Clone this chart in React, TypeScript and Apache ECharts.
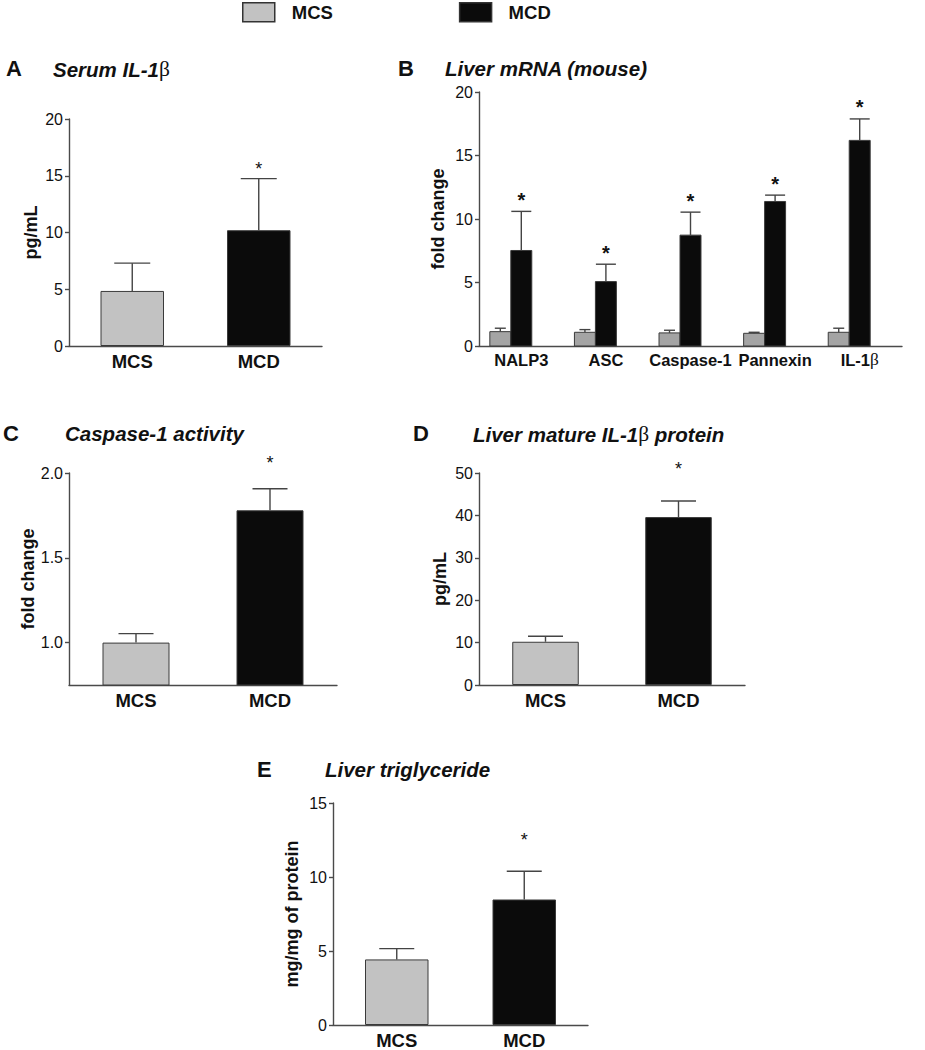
import React, { useEffect, useRef } from 'react';
import * as echarts from 'echarts';

// ---------- data ----------
const groups = ['MCS', 'MCD'];

// A: Serum IL-1β (pg/mL)
const serumCategories = ['MCS', 'MCD'];
const serumMean = [4.85, 10.2];
const serumSem = [2.45, 4.55];
const serumSig = [false, true];
const serumTicks = [0, 5, 10, 15, 20];

// B: Liver mRNA (fold change)
const mrnaCategories = ['NALP3', 'ASC', 'Caspase-1', 'Pannexin', 'IL-1β'];
const mrnaMcsMean = [1.13, 1.08, 1.03, 1.0, 1.08];
const mrnaMcsSem = [0.27, 0.21, 0.21, 0.08, 0.32];
const mrnaMcdMean = [7.52, 5.07, 8.73, 11.38, 16.19];
const mrnaMcdSem = [3.08, 1.37, 1.81, 0.5, 1.69];
const mrnaMcsSig = [false, false, false, false, false];
const mrnaMcdSig = [true, true, true, true, true];
const mrnaTicks = [0, 5, 10, 15, 20];

// C: Caspase-1 activity (fold change)
const caspCategories = ['MCS', 'MCD'];
const caspMean = [1.0, 1.78];
const caspSem = [0.053, 0.127];
const caspSig = [false, true];
const caspAxisMin = 0.75;
const caspTicks = [1.0, 1.5, 2.0];

// D: Liver mature IL-1β protein (pg/mL)
const il1bCategories = ['MCS', 'MCD'];
const il1bMean = [10.2, 39.6];
const il1bSem = [1.3, 3.8];
const il1bSig = [false, true];
const il1bTicks = [0, 10, 20, 30, 40, 50];

// E: Liver triglyceride (mg/mg of protein)
const tgCategories = ['MCS', 'MCD'];
const tgMean = [4.43, 8.48];
const tgSem = [0.73, 1.91];
const tgSig = [false, true];
const tgTicks = [0, 5, 10, 15];

// ---------- styles ----------
const FONT = "'Liberation Sans', Arial, Helvetica, sans-serif";
const SERIF = "'Liberation Serif', 'DejaVu Serif', serif";
const INK = '#111';
const AXIS = '#4a4a4a';
const MCS_FILL = '#c2c2c2';
const MCS_FILL_B = '#a4a4a4';
const MCD_FILL = '#0b0b0b';
const BORDER = '#3a3a3a';

function richLabel(v: string) {
  const i = v.indexOf('β');
  if (i < 0) return `{t|${v}}`;
  return `{t|${v.slice(0, i)}}{g|β}${v.slice(i + 1) ? `{t|${v.slice(i + 1)}}` : ''}`;
}

function richStyles(size: number, weight: string, style: string) {
  return {
    t: { fontFamily: FONT, fontSize: size, fontWeight: weight, fontStyle: style, color: INK },
    g: { fontFamily: SERIF, fontSize: size * 1.05, fontWeight: 'normal', fontStyle: 'normal', color: INK },
  };
}

function errorSeries(
  gridIdx: number,
  means: number[],
  sems: number[],
  sig: boolean[],
  o: { shift: number; cap: number; starGap: number; starSize: number; starWeight: string }
) {
  return {
    type: 'custom',
    xAxisIndex: gridIdx,
    yAxisIndex: gridIdx,
    silent: true,
    z: 5,
    encode: { x: 0, y: 1 },
    data: means.map((m, i) => [i, m, sems[i], sig[i] ? 1 : 0]),
    renderItem: (params: any, api: any) => {
      const i = api.value(0);
      const m = api.value(1);
      const s = api.value(2);
      const sg = api.value(3);
      const band = api.size([1, 0])[0];
      const base = api.coord([i, m]);
      const top = api.coord([i, m + s]);
      const cx = base[0] + o.shift * band;
      const ls = { stroke: '#444', lineWidth: 1.4 };
      const children: any[] = [
        { type: 'line', shape: { x1: cx, y1: base[1], x2: cx, y2: top[1] }, style: ls },
        { type: 'line', shape: { x1: cx - o.cap / 2, y1: top[1], x2: cx + o.cap / 2, y2: top[1] }, style: ls },
      ];
      if (sg) {
        children.push({
          type: 'text',
          x: cx,
          y: top[1] - o.starGap + o.starSize * 0.22,
          style: {
            text: '*',
            align: 'center',
            verticalAlign: 'middle',
            fontSize: o.starSize,
            fontWeight: o.starWeight,
            fontFamily: FONT,
            fill: INK,
          },
        });
      }
      return { type: 'group', children };
    },
  };
}

function twoBarSeries(gridIdx: number, means: number[], barWidth: number) {
  return groups.map((g, gi) => ({
    name: g,
    type: 'bar',
    xAxisIndex: gridIdx,
    yAxisIndex: gridIdx,
    barWidth,
    barGap: '-100%',
    itemStyle: { color: gi === 0 ? MCS_FILL : MCD_FILL, borderColor: BORDER, borderWidth: 1 },
    data: means.map((v, i) => (i === gi ? v : '-')),
  }));
}

function pairedBarSeries(gridIdx: number, name: string, means: number[], shift: number, widthFrac: number, fill: string) {
  return {
    name,
    type: 'custom',
    xAxisIndex: gridIdx,
    yAxisIndex: gridIdx,
    encode: { x: 0, y: 1 },
    itemStyle: { color: fill, borderColor: BORDER, borderWidth: 1 },
    data: means.map((m, i) => [i, m]),
    renderItem: (params: any, api: any) => {
      const i = api.value(0);
      const m = api.value(1);
      const band = api.size([1, 0])[0];
      const base = api.coord([i, 0]);
      const top = api.coord([i, m]);
      const w = widthFrac * band;
      const cx = base[0] + shift * band;
      return {
        type: 'rect',
        shape: { x: cx - w / 2, y: top[1], width: w, height: base[1] - top[1] },
        style: { fill, stroke: BORDER, lineWidth: 1 },
      };
    },
  };
}

function xAxis(gridIdx: number, cats: string[], size: number, margin: number) {
  return {
    type: 'category',
    gridIndex: gridIdx,
    data: cats,
    axisLine: { show: true, lineStyle: { color: AXIS, width: 1.4 } },
    axisTick: { show: false },
    splitLine: { show: false },
    axisLabel: {
      margin,
      interval: 0,
      formatter: (v: string) => richLabel(v),
      rich: richStyles(size, 'bold', 'normal'),
    },
  };
}

function yAxis(gridIdx: number, ticks: number[], name: string, nameGap: number, decimals: number, min?: number) {
  const base: any = {
    type: 'value',
    gridIndex: gridIdx,
    min: min !== undefined ? min : ticks[0],
    max: ticks[ticks.length - 1],
    name,
    nameLocation: 'middle',
    nameGap,
    nameRotate: 90,
    nameTextStyle: { fontFamily: FONT, fontSize: 18, fontWeight: 'bold', color: INK },
    axisLine: { show: true, lineStyle: { color: AXIS, width: 1.4 } },
    axisTick: { show: true, length: 4, lineStyle: { color: AXIS, width: 1.4 } },
    splitLine: { show: false },
    axisLabel: {
      margin: 6,
      fontFamily: FONT,
      fontSize: 16,
      color: INK,
      formatter: (v: number) => v.toFixed(decimals),
    },
  };
  if (min !== undefined) {
    base.axisTick.customValues = ticks;
    base.axisLabel.customValues = ticks;
  } else {
    base.interval = ticks[1] - ticks[0];
  }
  return base;
}

function panelTitle(letter: string, lx: number, text: string, tx: number, top: number) {
  return [
    {
      text: letter,
      left: lx,
      top,
      padding: 0,
      textStyle: { fontFamily: FONT, fontSize: 22, fontWeight: 'bold', color: INK },
    },
    {
      text: richLabel(text),
      left: tx,
      top: top + 1,
      padding: 0,
      textStyle: { rich: richStyles(20.5, 'bold', 'italic') },
    },
  ];
}

export default function App() {
  const ref = useRef<HTMLDivElement>(null);

  useEffect(() => {
    if (!ref.current) return;
    const chart = echarts.init(ref.current, undefined, { renderer: 'svg' });

    const option: any = {
      animation: false,
      backgroundColor: '#fff',
      textStyle: { fontFamily: FONT },
      title: [
        ...panelTitle('A', 6, 'Serum IL-1β', 53, 57),
        ...panelTitle('B', 398, 'Liver mRNA (mouse)', 445, 57),
        ...panelTitle('C', 3, 'Caspase-1 activity', 65, 422),
        ...panelTitle('D', 413, 'Liver mature IL-1β protein', 473, 422),
        ...panelTitle('E', 257, 'Liver triglyceride', 325, 758),
      ],
      legend: {
        data: groups,
        left: 242,
        top: 2,
        padding: 0,
        itemWidth: 32,
        itemHeight: 19,
        itemGap: 126,
        icon: 'rect',
        selectedMode: false,
        itemStyle: { borderColor: '#333', borderWidth: 1.5 },
        textStyle: { fontFamily: FONT, fontSize: 18.5, fontWeight: 'bold', color: INK, padding: [0, 0, 0, 12] },
      },
      grid: [
        { left: 69, top: 119, width: 253, height: 227 },
        { left: 479, top: 92, width: 423, height: 254 },
        { left: 69, top: 473, width: 268, height: 212 },
        { left: 479, top: 473, width: 266, height: 212 },
        { left: 333, top: 803, width: 255, height: 225 },
      ],
      xAxis: [
        xAxis(0, serumCategories, 18.5, 6),
        xAxis(1, mrnaCategories, 16.5, 5),
        xAxis(2, caspCategories, 18.5, 6),
        xAxis(3, il1bCategories, 18.5, 6),
        xAxis(4, tgCategories, 18.5, 6),
      ],
      yAxis: [
        yAxis(0, serumTicks, 'pg/mL', 29, 0),
        yAxis(1, mrnaTicks, 'fold change', 32, 0),
        yAxis(2, caspTicks, 'fold change', 30, 1, caspAxisMin),
        yAxis(3, il1bTicks, 'pg/mL', 30, 0),
        yAxis(4, tgTicks, 'mg/mg of protein', 32, 0),
      ],
      series: [
        ...twoBarSeries(0, serumMean, 63.5),
        pairedBarSeries(1, 'MCS', mrnaMcsMean, -0.248, 0.248, MCS_FILL_B),
        pairedBarSeries(1, 'MCD', mrnaMcdMean, 0, 0.248, MCD_FILL),
        ...twoBarSeries(2, caspMean, 67),
        ...twoBarSeries(3, il1bMean, 66.5),
        ...twoBarSeries(4, tgMean, 63.5),
        errorSeries(0, serumMean, serumSem, serumSig, { shift: 0, cap: 36, starGap: 14, starSize: 18, starWeight: 'normal' }),
        errorSeries(1, mrnaMcsMean, mrnaMcsSem, mrnaMcsSig, { shift: -0.248, cap: 11, starGap: 16, starSize: 20, starWeight: 'bold' }),
        errorSeries(1, mrnaMcdMean, mrnaMcdSem, mrnaMcdSig, { shift: 0, cap: 20, starGap: 16, starSize: 20, starWeight: 'bold' }),
        errorSeries(2, caspMean, caspSem, caspSig, { shift: 0, cap: 35, starGap: 30, starSize: 18, starWeight: 'normal' }),
        errorSeries(3, il1bMean, il1bSem, il1bSig, { shift: 0, cap: 35, starGap: 36, starSize: 18, starWeight: 'normal' }),
        errorSeries(4, tgMean, tgSem, tgSig, { shift: 0, cap: 35, starGap: 35, starSize: 18, starWeight: 'normal' }),
      ],
    };

    chart.setOption(option);
    return () => chart.dispose();
  }, []);

  return (
    <div
      ref={ref}
      style={{ position: 'absolute', left: 0, top: 0, width: 925, height: 1050, background: '#fff' }}
    />
  );
}
